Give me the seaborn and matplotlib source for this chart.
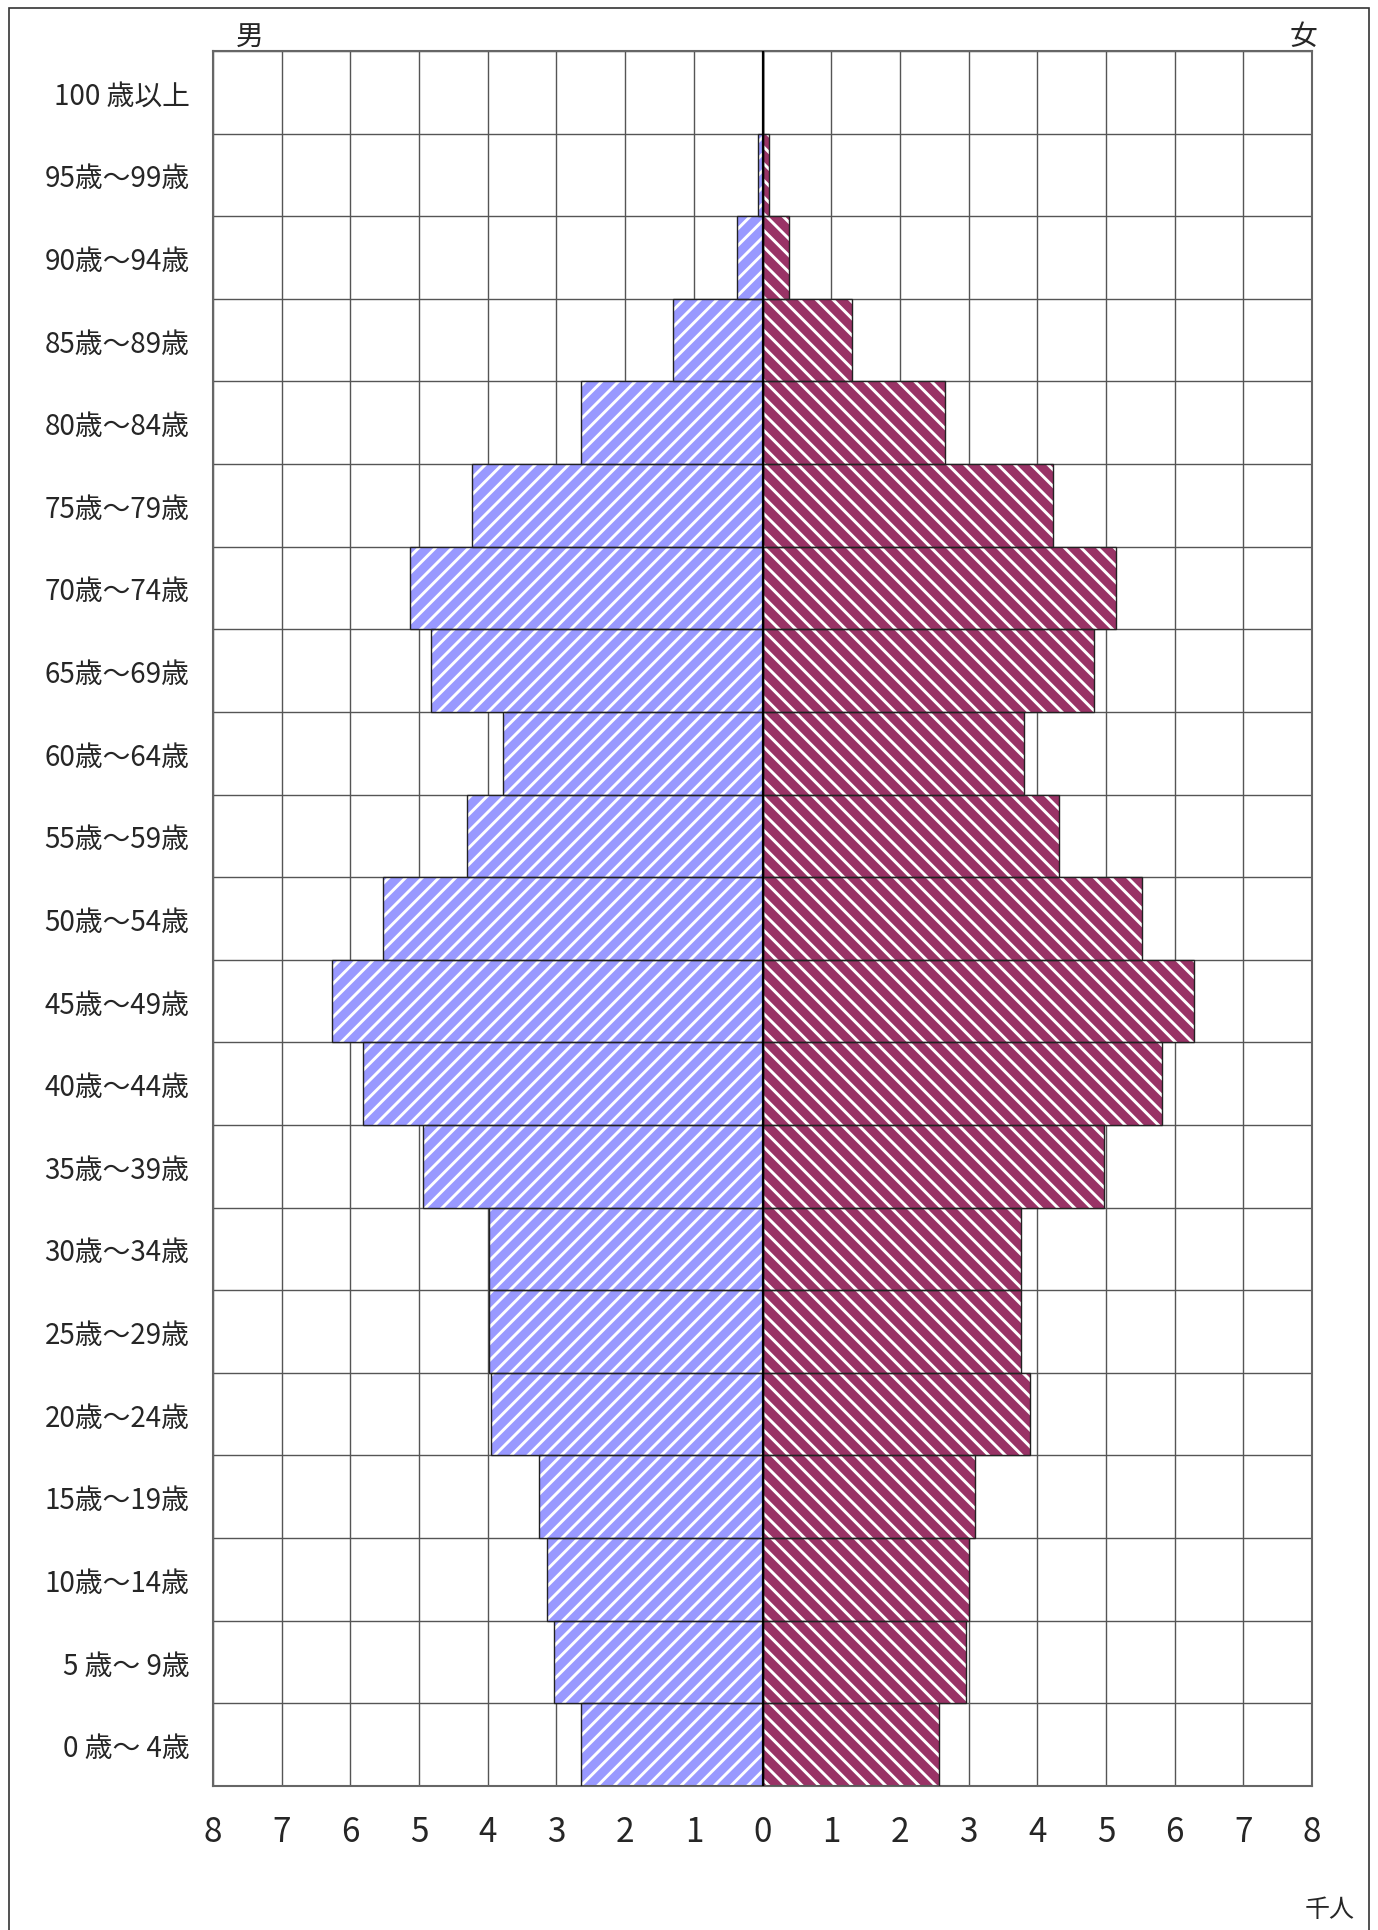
import pandas as pd
import matplotlib.pyplot as plt
import seaborn as sns
from matplotlib.patches import Rectangle

# 年齢階級（上から）
ages = ["100 歳以上", "95歳～99歳", "90歳～94歳", "85歳～89歳", "80歳～84歳",
        "75歳～79歳", "70歳～74歳", "65歳～69歳", "60歳～64歳", "55歳～59歳",
        "50歳～54歳", "45歳～49歳", "40歳～44歳", "35歳～39歳", "30歳～34歳",
        "25歳～29歳", "20歳～24歳", "15歳～19歳", "10歳～14歳", "5 歳～ 9歳",
        "0 歳～ 4歳"]
# 人口（千人）
male = [0.0, 0.06, 0.37, 1.30, 2.65, 4.23, 5.13, 4.83, 3.78, 4.30, 5.52,
        6.27, 5.81, 4.95, 3.98, 3.98, 3.96, 3.26, 3.14, 3.03, 2.65]
female = [0.0, 0.09, 0.39, 1.31, 2.65, 4.23, 5.15, 4.83, 3.80, 4.32, 5.52,
          6.28, 5.82, 4.97, 3.77, 3.77, 3.89, 3.10, 3.00, 2.96, 2.57]
xticks = list(range(-8, 9))

sns.set_style("white")
plt.rcParams['font.family'] = ['Noto Sans CJK JP', 'DejaVu Sans']
plt.rcParams['hatch.linewidth'] = 2.1

df = pd.DataFrame({"age": ages, "male": [-v for v in male], "female": female})

fig = plt.figure(figsize=(13.78, 19.31), dpi=100)
ax = fig.add_axes([0.1546, 0.0746, 0.7975, 0.8985])

# 縞模様の塗り
sns.barplot(data=df, x="male", y="age", orient="h", width=1.0, color="#9999FF",
            saturation=1, ax=ax, zorder=2)
n_m = len(ax.patches)
sns.barplot(data=df, x="female", y="age", orient="h", width=1.0, color="#993366",
            saturation=1, ax=ax, zorder=2)
for i, p in enumerate(ax.patches):
    p.set_hatch("//" if i < n_m else "\\\\")
    p.set_edgecolor("white")
    p.set_linewidth(0)

# 枠線
sns.barplot(data=df, x="male", y="age", orient="h", width=1.0, fill=False,
            edgecolor="#222222", linewidth=1.0, ax=ax, zorder=3)
sns.barplot(data=df, x="female", y="age", orient="h", width=1.0, fill=False,
            edgecolor="#222222", linewidth=1.0, ax=ax, zorder=3)

# グリッド
for x in xticks:
    ax.axvline(x, color="#555555", lw=1.0, zorder=1)
for k in range(len(ages) + 1):
    ax.axhline(k - 0.5, color="#555555", lw=1.0, zorder=1)
ax.axvline(0, color="black", lw=1.6, zorder=4)

ax.set_xlim(-8, 8)
ax.set_ylim(len(ages) - 0.5, -0.5)
ax.set_xticks(xticks)
ax.set_xticklabels([str(abs(t)) for t in xticks], fontsize=24)
ax.tick_params(axis="x", length=0, pad=20)
ax.tick_params(axis="y", length=0, pad=17, labelsize=20)
ax.set_xlabel("")
ax.set_ylabel("")
for s in ax.spines.values():
    s.set_color("#666666")
    s.set_linewidth(1.5)

fig.text(250 / 1378, 1 - 37 / 1931, "男", fontsize=20, ha="center", va="center")
fig.text(1303 / 1378, 1 - 37 / 1931, "女", fontsize=20, ha="center", va="center")
fig.text(1330 / 1378, 1 - 1910 / 1931, "千人", fontsize=18, ha="center", va="center")

# 外枠
fig.patches.append(Rectangle((9 / 1378, -0.02), 1360 / 1378, 1 - 9 / 1931 + 0.02,
                             transform=fig.transFigure, fill=False,
                             edgecolor="#333333", lw=1.2))

plt.savefig("out.png", dpi=100)
